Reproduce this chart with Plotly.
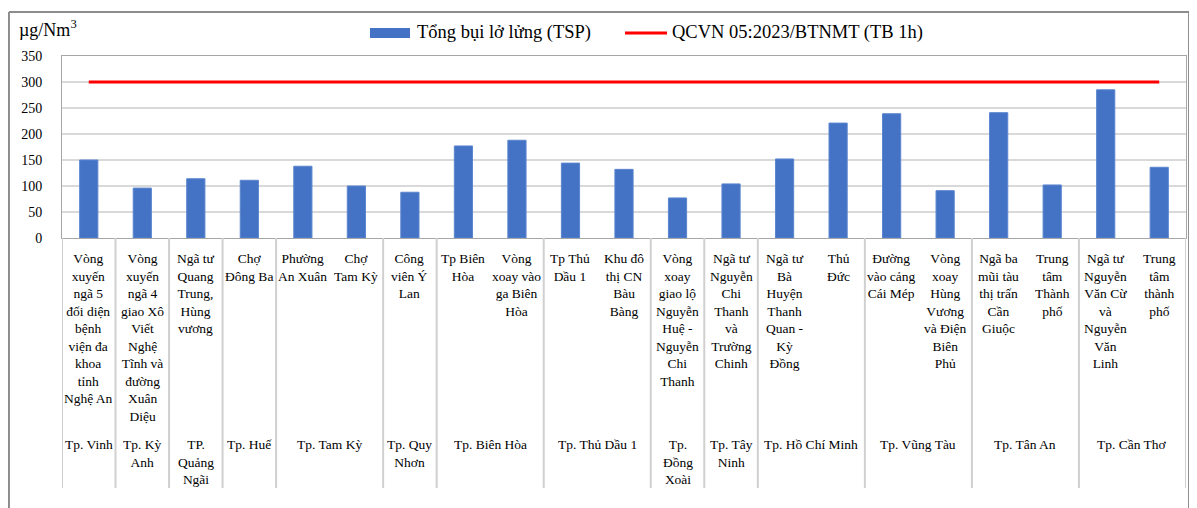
import plotly.graph_objects as go

# Sites (x categories), with line breaks as wrapped in the chart
sites = [
    "Vòng<br>xuyến<br>ngã 5<br>đối diện<br>bệnh<br>viện đa<br>khoa<br>tỉnh<br>Nghệ An",
    "Vòng<br>xuyến<br>ngã 4<br>giao Xô<br>Viết<br>Nghệ<br>Tĩnh và<br>đường<br>Xuân<br>Diệu",
    "Ngã tư<br>Quang<br>Trung,<br>Hùng<br>vương",
    "Chợ<br>Đông Ba",
    "Phường<br>An Xuân",
    "Chợ<br>Tam Kỳ",
    "Công<br>viên Ý<br>Lan",
    "Tp Biên<br>Hòa",
    "Vòng<br>xoay vào<br>ga Biên<br>Hòa",
    "Tp Thủ<br>Dầu 1",
    "Khu đô<br>thị CN<br>Bàu<br>Bàng",
    "Vòng<br>xoay<br>giao lộ<br>Nguyễn<br>Huệ -<br>Nguyễn<br>Chi<br>Thanh",
    "Ngã tư<br>Nguyễn<br>Chi<br>Thanh<br>và<br>Trường<br>Chinh",
    "Ngã tư<br>Bà<br>Huyện<br>Thanh<br>Quan -<br>Kỳ<br>Đồng",
    "Thủ<br>Đức",
    "Đường<br>vào cảng<br>Cái Mép",
    "Vòng<br>xoay<br>Hùng<br>Vương<br>và Điện<br>Biên<br>Phủ",
    "Ngã ba<br>mũi tàu<br>thị trấn<br>Cần<br>Giuộc",
    "Trung<br>tâm<br>Thành<br>phố",
    "Ngã tư<br>Nguyễn<br>Văn Cừ<br>và<br>Nguyễn<br>Văn<br>Linh",
    "Trung<br>tâm<br>thành<br>phố",
]

cities = [
    "Tp. Vinh", "Tp. Kỳ<br>Anh", "TP.<br>Quảng<br>Ngãi", "Tp. Huế",
    "Tp. Tam Kỳ", "Tp. Tam Kỳ", "Tp. Quy<br>Nhơn",
    "Tp. Biên Hòa", "Tp. Biên Hòa", "Tp. Thủ Dầu 1", "Tp. Thủ Dầu 1",
    "Tp.<br>Đồng<br>Xoài", "Tp. Tây<br>Ninh",
    "Tp. Hồ Chí Minh", "Tp. Hồ Chí Minh", "Tp. Vũng Tàu", "Tp. Vũng Tàu",
    "Tp. Tân An", "Tp. Tân An", "Tp. Cần Thơ", "Tp. Cần Thơ",
]

tsp = [150, 96, 114, 111, 138, 100, 88, 177, 188, 144, 132,
       77, 104, 152, 221, 239, 91, 241, 102, 285, 136]

qcvn_limit = 300
y_ticks = [0, 50, 100, 150, 200, 250, 300, 350]

bar_name = "Tổng bụi lở lửng (TSP)"
line_name = "QCVN 05:2023/BTNMT (TB 1h)"

font_family = "Liberation Serif"
bar_color = "#4472C4"
line_color = "#ff0000"
idx = list(range(len(sites)))

fig = go.Figure()

fig.add_trace(go.Bar(
    x=idx, y=tsp, marker=dict(color=bar_color, line=dict(color="#5b86cf", width=1)),
    showlegend=False, name=bar_name,
))
fig.add_trace(go.Scatter(
    x=idx, y=[qcvn_limit] * len(idx), mode="lines",
    line=dict(color=line_color, width=3), showlegend=False,
    name=line_name,
))

# site labels
for i, s in enumerate(sites):
    fig.add_annotation(x=i, y=-0.06, xref="x", yref="paper", text=s,
                       showarrow=False, yanchor="top", xanchor="center",
                       font=dict(family=font_family, size=13.5, color="#000"))

# city groups: labels + separators
groups = []
for i, c in enumerate(cities):
    if groups and groups[-1][0] == c:
        groups[-1][2] = i
    else:
        groups.append([c, i, i])

sep_color = "#d0d0d0"
for c, a, b in groups:
    fig.add_annotation(x=(a + b) / 2, y=-1.08, xref="x", yref="paper", text=c,
                       showarrow=False, yanchor="top", xanchor="center",
                       font=dict(family=font_family, size=13.5, color="#000"))
    fig.add_shape(type="line", xref="x", yref="paper", x0=a - 0.5, x1=a - 0.5,
                  y0=0, y1=-1.374, line=dict(color=sep_color, width=2))
fig.add_shape(type="line", xref="x", yref="paper", x0=len(sites) - 0.5, x1=len(sites) - 0.5,
              y0=0, y1=-1.374, line=dict(color=sep_color, width=2))

# unit label
fig.add_annotation(x=-0.04, y=1.15, xref="paper", yref="paper",
                   text="µg/Nm<sup>3</sup>", showarrow=False, xanchor="left",
                   yanchor="middle",
                   font=dict(family=font_family, size=18, color="#000"))

# legend drawn by hand (wide swatches like the original)
fig.add_shape(type="rect", xref="paper", yref="paper", x0=0.274, x1=0.3096,
              y0=1.099, y1=1.154, fillcolor=bar_color, line=dict(width=0))
fig.add_annotation(x=0.3141, y=1.1264, xref="paper", yref="paper", text=bar_name,
                   showarrow=False, xanchor="left", yanchor="middle",
                   font=dict(family=font_family, size=18.5, color="#000"))
fig.add_shape(type="line", xref="paper", yref="paper", x0=0.5009, x1=0.5383,
              y0=1.1264, y1=1.1264, line=dict(color=line_color, width=3))
fig.add_annotation(x=0.5409, y=1.1264, xref="paper", yref="paper", text=line_name,
                   showarrow=False, xanchor="left", yanchor="middle",
                   font=dict(family=font_family, size=18.5, color="#000"))

# outer frame
frame = dict(color="#8c8c8c", width=2)
fx0, fx1, fy0, fy1 = -0.0472, 1.0027, -1.6, 1.2418
fig.add_shape(type="line", xref="paper", yref="paper", x0=fx0, x1=fx1, y0=fy1, y1=fy1, line=frame)
fig.add_shape(type="line", xref="paper", yref="paper", x0=fx0, x1=fx0, y0=fy0, y1=fy1, line=frame)
fig.add_shape(type="line", xref="paper", yref="paper", x0=fx1, x1=fx1, y0=fy0, y1=fy1, line=frame)

fig.update_layout(
    width=1189, height=500,
    margin=dict(l=54, r=11, t=48, b=270, autoexpand=False),
    paper_bgcolor="white", plot_bgcolor="white",
    bargap=0.66,
    showlegend=False,
    font=dict(family=font_family, size=14, color="#000"),
    xaxis=dict(range=[-0.5, len(sites) - 0.5], showticklabels=False, showgrid=False,
               zeroline=False, showline=True, mirror=True, linecolor="#a6a6a6",
               linewidth=1, ticks=""),
    yaxis=dict(range=[0, 350], tickvals=y_ticks, showgrid=True, gridcolor="#d9d9d9",
               gridwidth=2, zeroline=False, showline=True, mirror=True,
               linecolor="#a6a6a6", linewidth=1, ticks="outside", ticklen=16,
               tickcolor="rgba(0,0,0,0)",
               tickfont=dict(family=font_family, size=14, color="#000")),
)

fig.write_html("out.html")
